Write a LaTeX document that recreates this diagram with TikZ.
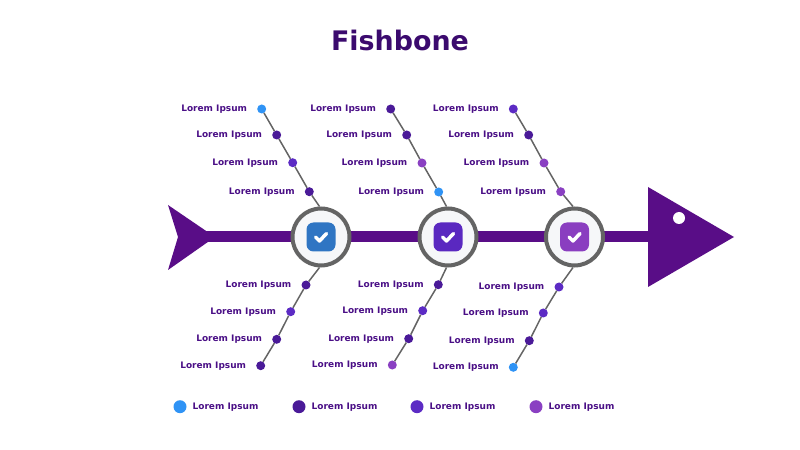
\documentclass[tikz,border=0pt]{standalone}
\usepackage{fontspec}
\setmainfont{DejaVu Sans}
\usetikzlibrary{positioning}
\definecolor{fbspine}{HTML}{590D87}
\definecolor{fbtitle}{HTML}{3B0A6E}
\definecolor{fbtext}{HTML}{4A0F86}
\definecolor{fbblue}{HTML}{2F93F5}
\definecolor{fbdark}{HTML}{4A1A98}
\definecolor{fbpurple}{HTML}{5C2BC4}
\definecolor{fbviolet}{HTML}{8A40C2}
\definecolor{fbring}{HTML}{646464}
\definecolor{fbhub}{HTML}{F6F7F9}
\definecolor{fbsqa}{HTML}{2F75C3}
\definecolor{fbsqb}{HTML}{5A28C0}
\definecolor{fbsqc}{HTML}{8A3EC0}
\tikzset{
    hub/.style={circle, draw=fbring, line width=4bp, fill=fbhub, minimum size=57bp, inner sep=0pt},
    badge/.style={rounded corners=7bp, minimum size=29bp, inner sep=0pt},
    tick/.style={draw=white, line width=3.5bp, line cap=round, line join=round},
    dot/.style={circle, fill=#1, minimum size=9bp, inner sep=0pt, outer sep=0pt},
    keydot/.style={circle, fill=#1, minimum size=13bp, inner sep=0pt, outer sep=0pt},
    lbl/.style={text=fbtext, font=\bfseries\fontsize{9}{10}\selectfont, inner sep=0pt, text height=6.6bp, text depth=1.9bp},
    bone/.style={draw=fbring, line width=1.5bp}
}
\begin{document}
\begin{tikzpicture}[x=1bp, y=-1bp]
    \useasboundingbox (0,0) rectangle (800,450);
    \node[text=fbtitle, font=\bfseries\fontsize{27}{30}\selectfont] (title) at (400,40) {Fishbone};

    % spine, tail and head
    \coordinate (tail) at (205,237);
    \coordinate (head) at (655,237);
    \draw[fbspine, line width=11bp] (tail) -- (head);
    \fill[fbspine] (168,205) -- (215,237) -- (168,270) -- (178,237) -- cycle;
    \fill[fbspine] (648,187) -- (734,237) -- (648,287) -- cycle;
    \fill[white] (679,218) circle (6);

    % hubs
    \foreach \i/\x/\c in {1/321/fbsqa, 2/448/fbsqb, 3/574.5/fbsqc}{
        \node[hub] (hub\i) at (\x,237) {};
        \node[badge, fill=\c] (badge\i) at (hub\i) {};
        \draw[tick] ([shift={(-5.5,0)}]badge\i.center) -- ([shift={(-1.5,4)}]badge\i.center) -- ([shift={(5.5,-3.5)}]badge\i.center);
    }

    % upper bones
    \foreach \x/\y/\c [count=\j] in {261.7/109/fbblue, 276.7/135/fbdark, 292.7/162.7/fbpurple, 309.3/191.7/fbdark}{
        \node[dot=\c] (t1\j) at (\x,\y) {};
        \node[lbl, left=10bp of t1\j] (t1\j-l) {Lorem Ipsum};
    }
    \foreach \x/\y/\c [count=\j] in {390.7/109/fbdark, 406.7/135/fbdark, 422/163/fbviolet, 438.7/192/fbblue}{
        \node[dot=\c] (t2\j) at (\x,\y) {};
        \node[lbl, left=10bp of t2\j] (t2\j-l) {Lorem Ipsum};
    }
    \foreach \x/\y/\c [count=\j] in {513.3/109/fbpurple, 528.7/135/fbdark, 544/163/fbviolet, 560.7/191.7/fbviolet}{
        \node[dot=\c] (t3\j) at (\x,\y) {};
        \node[lbl, left=10bp of t3\j] (t3\j-l) {Lorem Ipsum};
    }

    % lower bones
    \foreach \x/\y/\c [count=\j] in {306/285/fbdark, 290.7/311.7/fbpurple, 276.7/339.3/fbdark, 260.7/365.7/fbdark}{
        \node[dot=\c] (b1\j) at (\x,\y) {};
        \node[lbl, left=10bp of b1\j] (b1\j-l) {Lorem Ipsum};
    }
    \foreach \x/\y/\c [count=\j] in {438.3/284.7/fbdark, 422.7/310.7/fbpurple, 408.7/338.7/fbdark, 392.3/365/fbviolet}{
        \node[dot=\c] (b2\j) at (\x,\y) {};
        \node[lbl, left=10bp of b2\j] (b2\j-l) {Lorem Ipsum};
    }
    \foreach \x/\y/\c [count=\j] in {559/287/fbpurple, 543.3/313/fbpurple, 529.3/340.7/fbdark, 513.3/367.3/fbblue}{
        \node[dot=\c] (b3\j) at (\x,\y) {};
        \node[lbl, left=10bp of b3\j] (b3\j-l) {Lorem Ipsum};
    }

    \foreach \i in {1,2,3}{
        \draw[bone] (t\i1) -- (t\i2) -- (t\i3) -- (t\i4) -- ([xshift=-1.5bp]hub\i.north);
        \draw[bone] ([xshift=-1.5bp]hub\i.south) -- (b\i1) -- (b\i2) -- (b\i3) -- (b\i4);
    }

    % legend
    \foreach \x/\c [count=\k] in {180/fbblue, 299/fbdark, 417/fbpurple, 536/fbviolet}{
        \node[keydot=\c] (key\k) at (\x,406.7) {};
        \node[lbl, right=6bp of key\k] (key\k-l) {Lorem Ipsum};
    }
\end{tikzpicture}
\end{document}
